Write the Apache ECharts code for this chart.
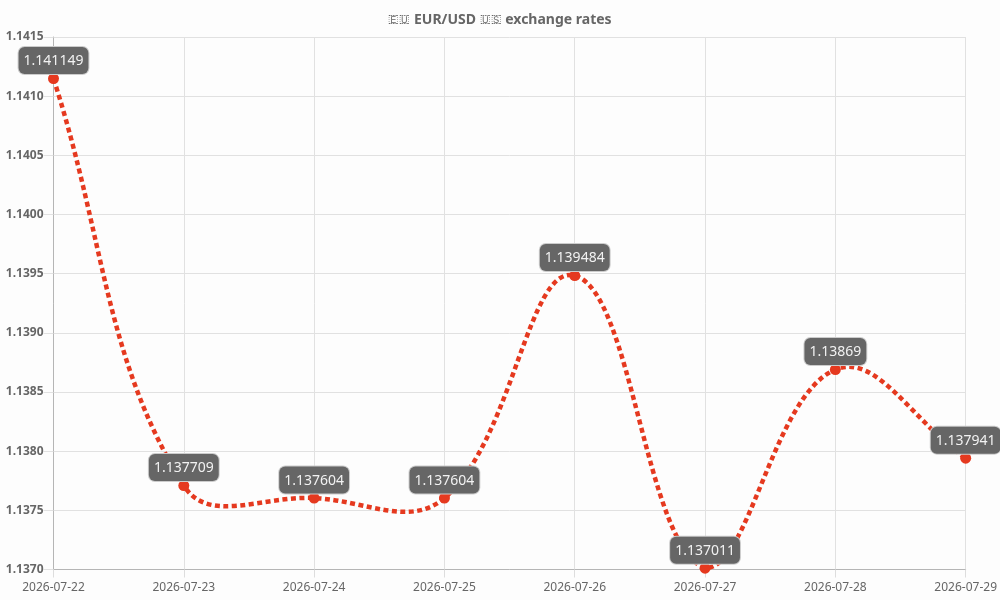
<!DOCTYPE html>
<html><head><meta charset="utf-8">
<style>html,body{margin:0;padding:0;background:#fdfdfd}#c{width:1000px;height:600px}</style>
<script src="https://cdn.jsdelivr.net/npm/echarts@6/dist/echarts.min.js"></script>
</head><body><div id="c"></div>
<script>
const flagEU = '🇪\uFE0E🇺\uFE0E';
const flagUS = '🇺\uFE0E🇸\uFE0E';
const titleWords = ['EUR/USD','exchange rates'];
const categories = ['2026-07-22','2026-07-23','2026-07-24','2026-07-25','2026-07-26','2026-07-27','2026-07-28','2026-07-29'];
const rates = [1.141149,1.137709,1.137604,1.137604,1.139484,1.137011,1.13869,1.137941];
const FONT = '"Noto Sans","Open Sans",sans-serif';
const TENSION = 0.4;
const RED = '#e5391f';

// Curve through the data points: tangent at each point is taken from its neighbours,
// weighted by segment length, without flattening at the extremes.
echarts.graphic.registerShape('tensionCurve', echarts.graphic.extendShape({
  shape:{points:[],tension:0.4,top:0,bottom:0},
  buildPath(ctx,shape){
    const P=shape.points,n=P.length,t=shape.tension;
    const cap=y=>Math.min(Math.max(y,shape.top),shape.bottom);
    const ctrl=P.map((p,i)=>{
      const a=P[Math.max(i-1,0)],b=P[Math.min(i+1,n-1)];
      const d0=Math.hypot(p[0]-a[0],p[1]-a[1]),d1=Math.hypot(b[0]-p[0],b[1]-p[1]);
      const s=d0+d1||1,f0=t*d0/s,f1=t*d1/s;
      return {
        prev:[p[0]-f0*(b[0]-a[0]),cap(p[1]-f0*(b[1]-a[1]))],
        next:[p[0]+f1*(b[0]-a[0]),cap(p[1]+f1*(b[1]-a[1]))]
      };
    });
    ctx.moveTo(P[0][0],P[0][1]);
    for(let i=1;i<n;i++){
      ctx.bezierCurveTo(ctrl[i-1].next[0],ctrl[i-1].next[1],ctrl[i].prev[0],ctrl[i].prev[1],P[i][0],P[i][1]);
    }
  }
}));

const chart = echarts.init(document.getElementById('c'), null, {renderer:'canvas'});
chart.setOption({
  animation:false,
  backgroundColor:'#fdfdfd',
  title:{text:`{f|${flagEU}} ${titleWords[0]} {f|${flagUS}} ${titleWords[1]}`,left:'center',top:8,
    textStyle:{fontFamily:FONT,fontSize:14,fontWeight:'bold',color:'#666',
      rich:{f:{fontFamily:FONT,fontSize:12,fontWeight:'normal',color:'#666'}}}},
  grid:{left:53.5,right:34,top:37,bottom:30.5,containLabel:false},
  xAxis:{type:'category',boundaryGap:false,data:categories,
    axisLine:{lineStyle:{color:'#b5b5b5',width:1}},
    axisTick:{show:true,length:8,lineStyle:{color:'#ddd'}},
    axisLabel:{color:'#666',fontFamily:FONT,fontSize:12,margin:12,hideOverlap:false,interval:0},
    splitLine:{show:true,lineStyle:{color:'#e1e1e1',width:1}}},
  yAxis:{type:'value',min:1.137,max:1.1415,interval:0.0005,
    axisLine:{show:true,lineStyle:{color:'#b5b5b5',width:1}},
    axisTick:{show:true,length:10,lineStyle:{color:'#e1e1e1'}},
    axisLabel:{color:'#666',fontFamily:FONT,fontSize:12,fontWeight:'bold',margin:10,padding:[2,0,0,0],formatter:v=>v.toFixed(4)},
    splitLine:{show:true,lineStyle:{color:'#e1e1e1',width:1}}},
  series:[
    {type:'custom',data:rates.map((v,i)=>[i,v]),clip:false,silent:true,z:2,
      encode:{x:0,y:1},
      renderItem(params,api){
        if(params.dataIndex!==0) return null;
        const points=rates.map((v,i)=>api.coord([i,v]));
        return {type:'tensionCurve',
          shape:{points,tension:TENSION,top:params.coordSys.y,bottom:params.coordSys.y+params.coordSys.height},
          style:{fill:null,stroke:RED,lineWidth:4.5,lineDash:[5,3.5]}};
      }},
    {type:'line',data:rates,symbol:'circle',symbolSize:11,clip:false,z:3,
      lineStyle:{width:0,opacity:0},
      itemStyle:{color:RED},
      label:{show:true,position:'top',distance:-1,color:'#f2f2f2',fontFamily:FONT,fontSize:14,
        backgroundColor:'#666',borderColor:'#ccc',borderWidth:1,borderRadius:6,padding:[7,5,6,5],
        formatter:p=>String(p.value)},
      labelLayout:{hideOverlap:false}}
  ]
});
</script></body></html>
